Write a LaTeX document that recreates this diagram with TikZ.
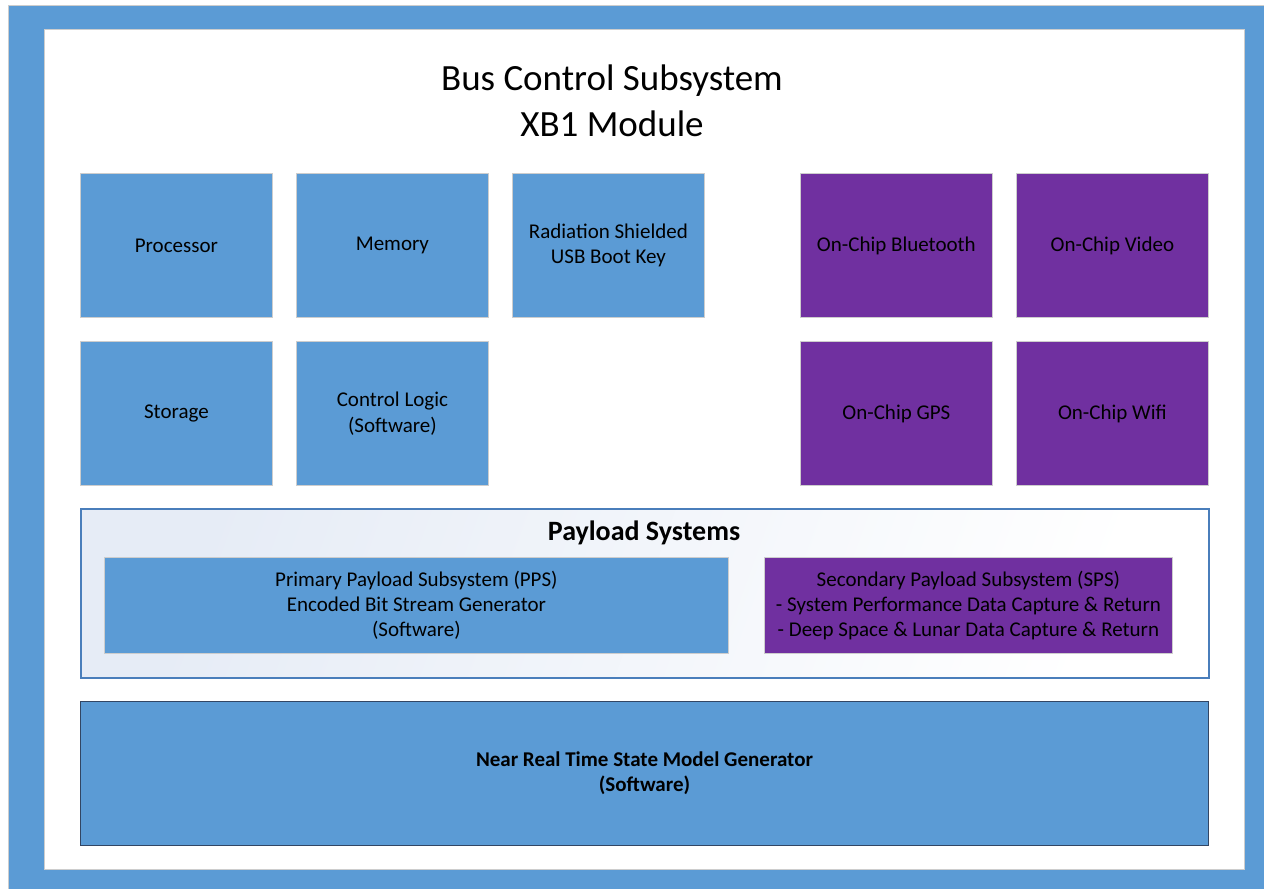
\documentclass[tikz,border=0pt]{standalone}
\usepackage{fontspec}
\setmainfont{Carlito}
\definecolor{boxblue}{RGB}{91,155,213}
\definecolor{boxpurple}{RGB}{112,48,160}
\definecolor{edgegray}{RGB}{205,205,205}
\definecolor{payedge}{RGB}{74,126,187}
\definecolor{darkedge}{RGB}{50,70,100}
\definecolor{shadelight}{RGB}{230,236,246}
\begin{document}
\begin{tikzpicture}[x=1pt,y=-1pt,
  blk/.style={draw=edgegray, line width=0.8pt, fill=boxblue, minimum width=192pt, minimum height=144pt,
    inner sep=0pt, align=center, anchor=north west, font=\fontsize{21}{25.6}\selectfont},
  pblk/.style={blk, fill=boxpurple},
  wide/.style={draw=edgegray, line width=0.8pt, fill=boxblue, minimum height=96pt,
    inner sep=0pt, align=center, anchor=north west, font=\fontsize{21}{25}\selectfont}]
\useasboundingbox (0,0) rectangle (1264,889);
\fill[white] (0,0) rectangle (1264,889);
% outer frame
\filldraw[fill=boxblue, draw=edgegray, line width=0.8pt] (8,5) rectangle (1272,897);
\filldraw[fill=white, draw=edgegray, line width=0.8pt] (44,29) rectangle (1244,869);
% title
\node[align=center, font=\fontsize{37}{46}\selectfont] (title) at (612,101) {Bus Control Subsystem\\XB1 Module};
% top blocks
\node[blk] (proc) at (80,173) {Processor};
\node[blk] (mem) at (296,173) {Memory};
\node[blk] (usb) at (512,173) {Radiation Shielded\\USB Boot Key};
\node[pblk] (bt) at (800,173) {On-Chip Bluetooth};
\node[pblk] (video) at (1016,173) {On-Chip Video};
\node[blk] (stor) at (80,341) {Storage};
\node[blk] (ctrl) at (296,341) {Control Logic\\(Software)};
\node[pblk] (gps) at (800,341) {On-Chip GPS};
\node[pblk] (wifi) at (1016,341) {On-Chip Wifi};
% payload systems
\node[draw=payedge, line width=1.5pt, left color=shadelight, right color=white, shading angle=70,
  minimum width=1128pt, minimum height=169pt, inner sep=0pt, anchor=north west] (pay) at (80,508) {};
\node[font=\fontsize{28}{32}\selectfont\bfseries] (paytitle) at (644,533) {Payload Systems};
\node[wide, minimum width=624pt] (pps) at (104,557) {Primary Payload Subsystem (PPS)\\Encoded Bit Stream Generator\\(Software)};
\node[wide, fill=boxpurple, minimum width=408pt] (sps) at (764,557) {Secondary Payload Subsystem (SPS)\\- System Performance Data Capture \& Return\\- Deep Space \& Lunar Data Capture \& Return};
% near real time
\node[draw=darkedge, line width=1pt, fill=boxblue, minimum width=1128pt, minimum height=144pt,
  inner sep=0pt, align=center, anchor=north west, font=\fontsize{21}{25}\selectfont\bfseries] (nrt) at (80,701)
  {Near Real Time State Model Generator\\(Software)};
\end{tikzpicture}
\end{document}
